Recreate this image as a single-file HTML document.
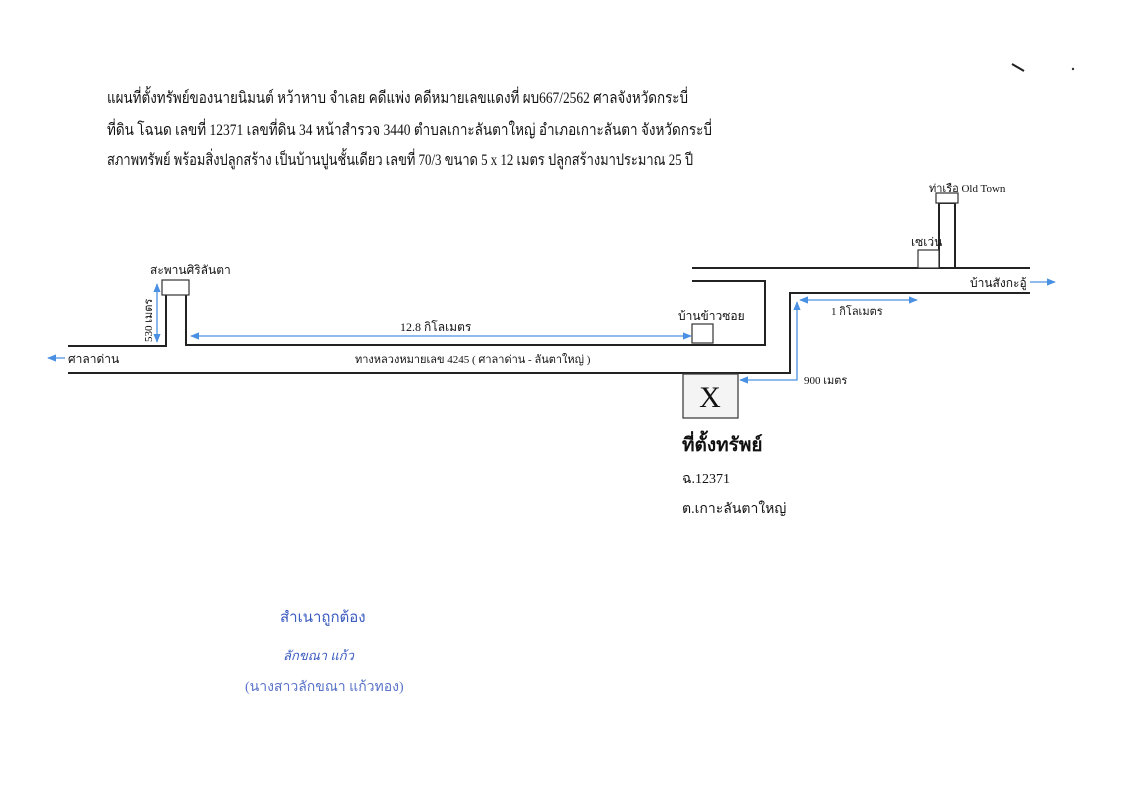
<!DOCTYPE html>
<html><head><meta charset="utf-8"><style>
html,body{margin:0;padding:0;background:#fff;}
svg{display:block;}
text{font-family:"Liberation Serif","DejaVu Serif",serif;fill:#111;}
</style></head><body>
<svg width="1123" height="800" viewBox="0 0 1123 800" xmlns="http://www.w3.org/2000/svg">
<defs>
<marker id="a" viewBox="0 0 10 10" refX="9" refY="5" markerWidth="7" markerHeight="7" orient="auto-start-reverse"><path d="M0,1 L10,5 L0,9 z" fill="#4a90e2"/></marker>
</defs>
<rect width="1123" height="800" fill="#fff"/>
<text x="107" y="103" font-size="16" textLength="581" lengthAdjust="spacingAndGlyphs">แผนที่ตั้งทรัพย์ของนายนิมนต์  หว้าหาบ  จำเลย คดีแพ่ง คดีหมายเลขแดงที่ ผบ667/2562 ศาลจังหวัดกระบี่</text>
<text x="107" y="135" font-size="16" textLength="605" lengthAdjust="spacingAndGlyphs">ที่ดิน โฉนด เลขที่ 12371 เลขที่ดิน 34 หน้าสำรวจ 3440  ตำบลเกาะลันตาใหญ่  อำเภอเกาะลันตา  จังหวัดกระบี่</text>
<text x="107" y="165" font-size="16" textLength="586" lengthAdjust="spacingAndGlyphs">สภาพทรัพย์  พร้อมสิ่งปลูกสร้าง เป็นบ้านปูนชั้นเดียว เลขที่ 70/3 ขนาด 5 x 12 เมตร ปลูกสร้างมาประมาณ 25 ปี</text>

<g stroke="#222" stroke-width="2" fill="none">
<polyline points="68,346 166,346 166,295"/>
<polyline points="186,295 186,345 765,345 765,281 692,281"/>
<polyline points="68,373 790,373 790,293 1030,293"/>
<line x1="692" y1="268" x2="1030" y2="268"/>
<polyline points="939,268 939,203 955,203 955,268"/>
</g>
<g stroke="#333" stroke-width="1.2" fill="#fff">
<rect x="162" y="280" width="27" height="15"/>
<rect x="918" y="250" width="21" height="18"/>
<rect x="936" y="193" width="22" height="10"/>
<rect x="692" y="324" width="21" height="19"/>
<rect x="683" y="374" width="55" height="44" fill="#f4f4f4"/>
</g>
<text x="710" y="407" font-size="30" text-anchor="middle">X</text>

<g stroke="#4a90e2" stroke-width="1.3" fill="none">
<line x1="157" y1="342" x2="157" y2="284" marker-start="url(#a)" marker-end="url(#a)"/>
<line x1="191" y1="336" x2="691" y2="336" marker-start="url(#a)" marker-end="url(#a)"/>
<line x1="800" y1="300" x2="917" y2="300" marker-start="url(#a)" marker-end="url(#a)"/>
<polyline points="740,380 797,380 797,302" marker-start="url(#a)" marker-end="url(#a)"/>
<line x1="65" y1="358" x2="48" y2="358" marker-end="url(#a)"/>
<line x1="1030" y1="282" x2="1055" y2="282" marker-end="url(#a)"/>
</g>

<text x="150" y="274" font-size="12">สะพานศิริลันตา</text>
<text x="0" y="0" font-size="11" transform="translate(152,342) rotate(-90)">530 เมตร</text>
<text x="400" y="331" font-size="12">12.8 กิโลเมตร</text>
<text x="68" y="363" font-size="12">ศาลาด่าน</text>
<text x="355" y="363" font-size="11">ทางหลวงหมายเลข 4245 ( ศาลาด่าน - ลันตาใหญ่ )</text>
<text x="678" y="320" font-size="12">บ้านข้าวซอย</text>
<text x="929" y="192" font-size="11">ท่าเรือ  Old Town</text>
<text x="911" y="246" font-size="12">เซเว่น</text>
<text x="970" y="287" font-size="12">บ้านสังกะอู้</text>
<text x="831" y="315" font-size="11">1 กิโลเมตร</text>
<text x="804" y="384" font-size="11">900 เมตร</text>
<text x="682" y="451" font-size="19" font-weight="bold">ที่ตั้งทรัพย์</text>
<text x="682" y="483" font-size="14">ฉ.12371</text>
<text x="682" y="513" font-size="14">ต.เกาะลันตาใหญ่</text>

<text x="280" y="622" font-size="15" style="fill:#3a5bbf">สำเนาถูกต้อง</text>
<text x="283" y="660" font-size="13" font-style="italic" style="fill:#3a5bbf">ลักขณา แก้ว</text>
<text x="245" y="691" font-size="14" style="fill:#5a73c9">(นางสาวลักขณา  แก้วทอง)</text>
<line x1="1012" y1="64" x2="1024" y2="71" stroke="#222" stroke-width="2"/>
<circle cx="1073" cy="69" r="1.2" fill="#333"/>
</svg>
</body></html>
